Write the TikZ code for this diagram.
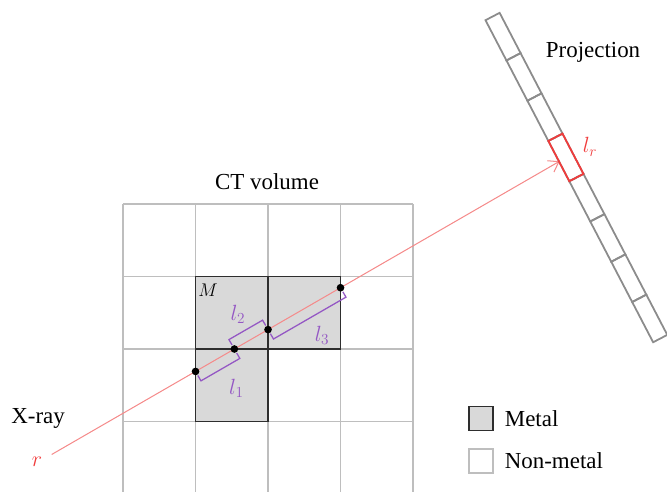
\documentclass[tikz,border=0pt]{standalone}
\usepackage{fontspec}
\setmainfont{Liberation Serif}
\usetikzlibrary{positioning,arrows.meta,calc}
\definecolor{cinza}{HTML}{BEBEBE}
\definecolor{metal}{HTML}{D9D9D9}
\definecolor{borda}{HTML}{2E2E2E}
\definecolor{detetor}{HTML}{8C8C8C}
\definecolor{rosa}{HTML}{F58A8A}
\definecolor{vermelho}{HTML}{F03C3C}
\definecolor{roxo}{HTML}{9457C4}

\begin{document}
\begin{tikzpicture}[
  x=2cm, y=2cm,
  font=\fontsize{18}{22}\selectfont,
  grade/.style={draw=cinza, line width=1.2pt},
  metalico/.style={draw=borda, fill=metal, line width=1.4pt},
  celula/.style={draw=detetor, line width=1.4pt},
  raio/.style={draw=rosa, line width=0.8pt, -{Straight Barb[length=2.6mm, width=3.6mm]}},
  ponto/.style={circle, fill=black, inner sep=0pt, minimum size=6pt},
  colchete/.style={draw=roxo, line width=1pt},
  rotulo/.style={font=\fontsize{17}{20}\selectfont},
  legenda/.style={minimum size=0.66cm, inner sep=0pt, line width=1.3pt}]
\useasboundingbox (-1.697,-3.959) rectangle (7.503,2.814);
% ---- grade do volume CT
\foreach \i in {0,...,4} \draw[grade] (\i,0) -- (\i,-4);
\foreach \j in {0,...,3} \draw[grade] (0,-\j) -- (4,-\j);
% ---- celulas de metal
\draw[metalico] (1,-2) rectangle (2,-1);
\draw[metalico] (2,-2) rectangle (3,-1);
\draw[metalico] (1,-3) rectangle (2,-2);
\node[font=\fontsize{14}{16}\selectfont] at (1.172,-1.19) {$M$};
% ---- raio X
\coordinate (origem) at ($(5,0)+(210:6.91)$);
\coordinate (alvo) at ($(5,0)+(30:1.18)$);
\draw[raio] (origem) -- (alvo);
\coordinate (p1) at (1,-2.3094);
\coordinate (p2) at (1.5359,-2);
\coordinate (p3) at (2,-1.7321);
\coordinate (p4) at (3,-1.1547);
\foreach \p in {p1,p2,p3,p4} \node[ponto] at (\p) {};
% ---- comprimentos dentro do metal
\foreach \a/\b/\s/\t in {p1/p2/-90/90, p2/p3/90/-90, p3/p4/-90/90}
  \draw[colchete] ($(\a)!0.13cm!\s:(\b)$) -- ($(\a)!0.3cm!\s:(\b)$)
    -- ($(\b)!0.3cm!\t:(\a)$) -- ($(\b)!0.13cm!\t:(\a)$);
\node[rotulo, text=roxo] at (1.565,-2.545) {$l_1$};
\node[rotulo, text=roxo] at (1.586,-1.525) {$l_2$};
\node[rotulo, text=roxo] at (2.745,-1.81) {$l_3$};
% ---- detetor (projecao)
\begin{scope}[shift={(5.097,2.586)}, rotate=-62.5]
  \foreach \k in {0,...,7} \draw[celula] (0.626*\k,-0.11) rectangle ++(0.626,0.22);
  \draw[celula, draw=vermelho] (0.626*3,-0.11) rectangle ++(0.626,0.22);
\end{scope}
\node[rotulo, text=vermelho] at (6.441,0.79) {$l_r$};
% ---- textos
\node at (1.986,0.303) {CT volume};
\node at (6.483,2.097) {Projection};
\node at (-1.172,-2.952) {X-ray};
\node[rotulo, text=vermelho] at (-1.186,-3.56) {$r$};
% ---- legenda
\node[legenda, metalico] (legmetal) at (4.938,-2.959) {};
\node[right=0.18cm of legmetal] {Metal};
\node[legenda, draw=cinza] (legnao) at (4.938,-3.545) {};
\node[right=0.18cm of legnao] {Non-metal};
\end{tikzpicture}
\end{document}
